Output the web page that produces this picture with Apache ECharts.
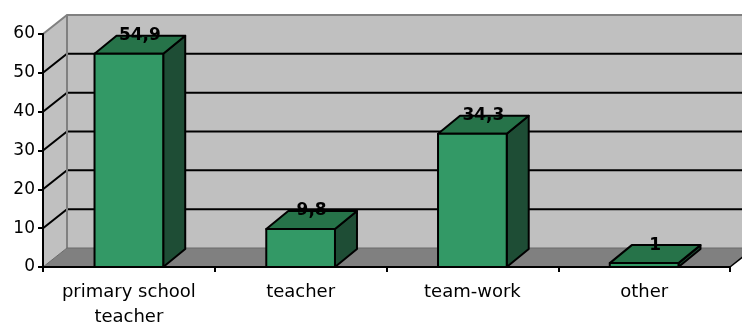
<!DOCTYPE html>
<html>
<head>
<meta charset="utf-8">
<script src="https://cdn.jsdelivr.net/npm/echarts@6/dist/echarts.min.js"></script>
<style>
  html, body { margin: 0; padding: 0; background: #ffffff; }
  #chart { width: 742px; height: 324px; }
</style>
</head>
<body>
<div id="chart"></div>
<script>
// Survey answers (percent)
const categories = ['primary school\nteacher', 'teacher', 'team-work', 'other'];
const values = [54.9, 9.8, 34.3, 1];
const yTicks = [0, 10, 20, 30, 40, 50, 60];

// depth of the 3D box (walls) and of the columns, in pixels
const WALL_DX = 24, WALL_DY = -19;
const BAR_DX = 22, BAR_DY = -18;
const BAR_RATIO = 0.4;

const FONT = 'DejaVu Sans';

function fmt(v) { return String(v).replace('.', ','); }

const chart = echarts.init(document.getElementById('chart'), null, { renderer: 'canvas' });

// Walls, floor and back-wall grid lines
function renderWalls(params, api) {
  const cs = params.coordSys;
  const left = cs.x, right = cs.x + cs.width;
  const y0 = api.coord([0, 0])[1];
  const yTop = api.coord([0, yTicks[yTicks.length - 1]])[1];
  const children = [];
  // back wall
  children.push({
    type: 'polygon',
    shape: { points: [[left + WALL_DX, yTop + WALL_DY], [right + WALL_DX, yTop + WALL_DY],
                      [right + WALL_DX, y0 + WALL_DY], [left + WALL_DX, y0 + WALL_DY]] },
    style: { fill: '#c0c0c0', stroke: null }
  });
  // side wall
  children.push({
    type: 'polygon',
    shape: { points: [[left, yTop], [left + WALL_DX, yTop + WALL_DY],
                      [left + WALL_DX, y0 + WALL_DY], [left, y0]] },
    style: { fill: '#c0c0c0', stroke: null }
  });
  // floor
  children.push({
    type: 'polygon',
    shape: { points: [[left, y0], [left + WALL_DX, y0 + WALL_DY],
                      [right + WALL_DX, y0 + WALL_DY], [right, y0]] },
    style: { fill: '#808080', stroke: null }
  });
  // grid lines on back and side wall
  yTicks.forEach(function (t) {
    if (t === 0 || t === yTicks[yTicks.length - 1]) return;
    const y = api.coord([0, t])[1];
    children.push({
      type: 'polyline',
      shape: { points: [[left, y], [left + WALL_DX, y + WALL_DY], [right + WALL_DX, y + WALL_DY]] },
      style: { stroke: '#000000', lineWidth: 2, fill: null }
    });
  });
  // wall edges
  children.push({
    type: 'polyline',
    shape: { points: [[left, yTop], [left + WALL_DX, yTop + WALL_DY], [right + WALL_DX, yTop + WALL_DY]] },
    style: { stroke: '#808080', lineWidth: 2, fill: null }
  });
  children.push({
    type: 'line',
    shape: { x1: left + WALL_DX, y1: yTop + WALL_DY, x2: left + WALL_DX, y2: y0 + WALL_DY },
    style: { stroke: '#808080', lineWidth: 2 }
  });
  children.push({
    type: 'polyline',
    shape: { points: [[left, y0], [left + WALL_DX, y0 + WALL_DY], [right + WALL_DX, y0 + WALL_DY]] },
    style: { stroke: '#6a6a6a', lineWidth: 1, fill: null }
  });
  children.push({
    type: 'line',
    shape: { x1: right, y1: y0, x2: right + WALL_DX, y2: y0 + WALL_DY },
    style: { stroke: '#000000', lineWidth: 1.5 }
  });
  return { type: 'group', children: children };
}

// 3D columns
function renderBar(params, api) {
  const idx = api.value(0);
  const val = api.value(1);
  const base = api.coord([idx, 0]);
  const top = api.coord([idx, val]);
  const bw = api.size([1, 0])[0] * BAR_RATIO;
  const x0 = base[0] - bw / 2, x1 = x0 + bw;
  const yb = base[1], yt = top[1];
  const line = { stroke: '#000000', lineWidth: 2, lineJoin: 'round' };
  return {
    type: 'group',
    children: [
      {
        type: 'polygon',
        shape: { points: [[x1, yt], [x1 + BAR_DX, yt + BAR_DY], [x1 + BAR_DX, yb + BAR_DY], [x1, yb]] },
        style: Object.assign({ fill: '#1e4d35' }, line)
      },
      {
        type: 'polygon',
        shape: { points: [[x0, yt], [x0 + BAR_DX, yt + BAR_DY], [x1 + BAR_DX, yt + BAR_DY], [x1, yt]] },
        style: Object.assign({ fill: '#267349' }, line)
      },
      {
        type: 'rect',
        shape: { x: x0, y: yt, width: bw, height: yb - yt },
        style: Object.assign({ fill: '#339966' }, line)
      },
      {
        type: 'text',
        style: {
          x: base[0] + BAR_DX / 2, y: yt + BAR_DY,
          text: fmt(val),
          fill: '#000000',
          font: 'bold 17px "' + FONT + '"',
          align: 'center', verticalAlign: 'middle'
        }
      }
    ]
  };
}

chart.setOption({
  animation: false,
  backgroundColor: '#ffffff',
  grid: { left: 43, right: 12, top: 34, bottom: 57, containLabel: false, outerBoundsMode: 'none' },
  xAxis: {
    type: 'category',
    data: categories,
    z: 5,
    axisLine: { show: true, lineStyle: { color: '#000000', width: 2 } },
    axisTick: { show: true, length: 5, interval: 0, alignWithLabel: false, lineStyle: { color: '#000000', width: 2 } },
    axisLabel: { color: '#000000', fontFamily: FONT, fontSize: 18, lineHeight: 25, margin: 13, interval: 0 },
    splitLine: { show: false }
  },
  yAxis: {
    type: 'value',
    min: 0, max: 60, interval: 10,
    z: 5,
    axisLine: { show: true, lineStyle: { color: '#000000', width: 2 } },
    axisTick: { show: true, length: 5, lineStyle: { color: '#000000', width: 2 } },
    axisLabel: { color: '#000000', fontFamily: FONT, fontSize: 17, margin: 8 },
    splitLine: { show: false }
  },
  series: [
    {
      type: 'custom',
      z: 1,
      silent: true,
      renderItem: renderWalls,
      data: [[0, 0]],
      clip: false
    },
    {
      type: 'custom',
      z: 2,
      renderItem: renderBar,
      data: values.map(function (v, i) { return [i, v]; }),
      clip: false
    }
  ]
});
</script>
</body>
</html>
